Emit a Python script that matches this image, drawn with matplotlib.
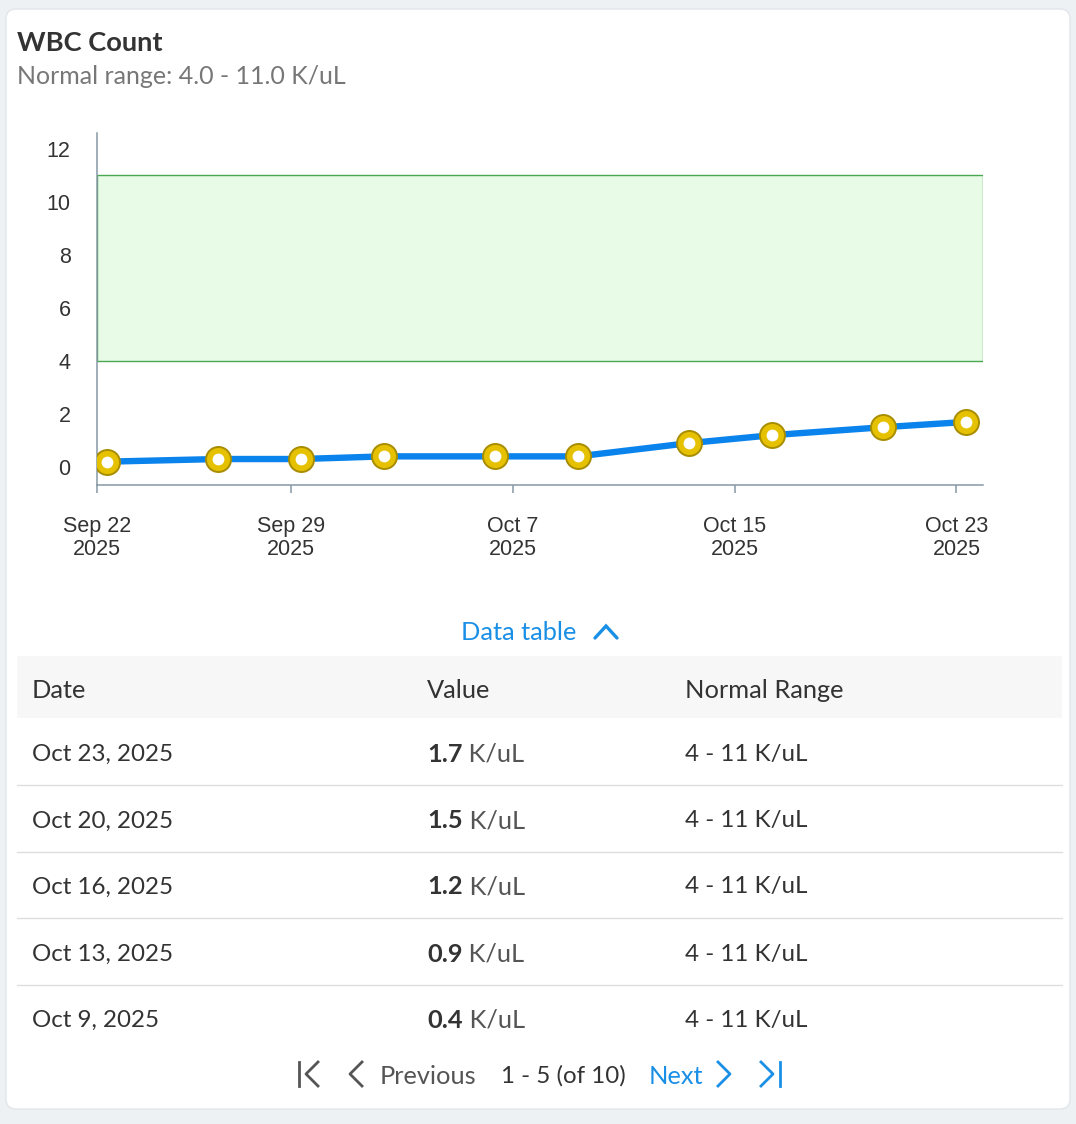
import matplotlib
matplotlib.use('Agg')
from matplotlib import pyplot as plt
from matplotlib.patches import FancyBboxPatch, Rectangle
import pandas as pd

# data
dates = pd.to_datetime(['2025-09-22 08:30', '2025-09-26 08:30', '2025-09-29 08:30',
                        '2025-10-02 08:30', '2025-10-06 08:30', '2025-10-09 08:30',
                        '2025-10-13 08:30', '2025-10-16 08:30', '2025-10-20 08:30',
                        '2025-10-23 08:30'])
values = [0.2, 0.3, 0.3, 0.4, 0.4, 0.4, 0.9, 1.2, 1.5, 1.7]
normal_low = 4
normal_high = 11
xtick_dates = pd.to_datetime(['2025-09-22', '2025-09-29', '2025-10-07', '2025-10-15', '2025-10-23'])
yticks = [0, 2, 4, 6, 8, 10, 12]
table_cols = ['Date', 'Value', 'Normal Range']
unit = 'K/uL'

ui_font = 'Lato'
chart_font = 'Liberation Sans'
blue = '#1a8fe6'
fs = 18.3
fs_num = 17.4  # digit-heavy strings run wide in Lato

fig = plt.figure(figsize=(10.76, 11.24), dpi=100)
fig.patch.set_facecolor('#eef1f4')

# page background in pixel coordinates
bg = fig.add_axes([0, 0, 1, 1])
bg.set_xlim(0, 1076)
bg.set_ylim(1124, 0)
bg.axis('off')
bg.add_patch(FancyBboxPatch((6, 9), 1064, 1100, boxstyle='round,pad=0,rounding_size=10',
                            facecolor='white', edgecolor='#e2e6ea', lw=1))

bg.text(17, 43, 'WBC Count', fontsize=19.6, fontweight='bold', color='#333333',
        family=ui_font, va='center')
bg.text(17, 76, 'Normal range: %.1f - %.1f %s' % (normal_low, normal_high, unit),
        fontsize=18, color='#777777', family=ui_font, va='center')

# chart
ax = fig.add_axes([97 / 1076, 1 - 485 / 1124, (983 - 97) / 1076, (485 - 133) / 1124])
ax.set_facecolor('none')
ax.set_ylim(-0.68, 12.6)
ax.set_xlim(pd.Timestamp('2025-09-22'), pd.Timestamp('2025-10-23 23:00'))
ax.axhspan(normal_low, normal_high, facecolor='#e7fbe7', edgecolor='#49a852', lw=1, zorder=1)
ax.plot(dates, values, color='#0a84ec', lw=4.6, zorder=3, solid_capstyle='round')
ax.plot(dates, values, ls='none', marker='o', ms=18, mfc='#e6c100', mec='#a88d00',
        mew=1.4, zorder=4)
ax.plot(dates, values, ls='none', marker='o', ms=8.5, mfc='white', mec='none', zorder=5)

for s in ['top', 'right']:
    ax.spines[s].set_visible(False)
for s in ['left', 'bottom']:
    ax.spines[s].set_color('#8698a4')
    ax.spines[s].set_linewidth(1.1)

ax.set_yticks(yticks)
ax.set_xticks(xtick_dates)
ax.set_xticklabels(['%s %d\n%d' % (d.strftime('%b'), d.day, d.year) for d in xtick_dates])
ax.tick_params(axis='y', length=0, pad=19, labelsize=15.5, labelcolor='#333333')
ax.tick_params(axis='x', length=6, width=1.1, color='#8698a4', pad=16,
               labelsize=15.5, labelcolor='#333333')
for lbl in ax.get_xticklabels() + ax.get_yticklabels():
    lbl.set_family(chart_font)
for lbl in ax.get_xticklabels():
    lbl.set_linespacing(1.18)

# data table toggle
bg.text(519, 632, 'Data table', fontsize=fs, color=blue, family=ui_font, va='center', ha='center')
bg.plot([595, 606, 617], [638, 626, 638], color=blue, lw=2.4, solid_capstyle='round',
        solid_joinstyle='miter')

# table
bg.add_patch(Rectangle((17, 656), 1045, 62, facecolor='#f7f7f7', edgecolor='none'))
col_x = [32, 427, 685]
for x, name in zip(col_x, table_cols):
    bg.text(x, 690, name, fontsize=fs, color='#333333', family=ui_font, va='center')

row_y = [752, 819, 885, 952, 1018]
recent = list(zip(dates, values))[::-1][:5]
for i, (y, (d, v)) in enumerate(zip(row_y, recent)):
    bg.text(col_x[0], y + 2, '%s %d, %d' % (d.strftime('%b'), d.day, d.year), fontsize=fs_num,
            color='#333333', family=ui_font, va='center')
    t = bg.text(col_x[1], y + 2, '%.1f' % v, fontsize=fs, color='#333333', fontweight='bold',
                family=ui_font, va='center')
    bg.annotate(' ' + unit, xy=(1, 0), xycoords=t, va='bottom', ha='left', fontsize=fs,
                color='#555555', family=ui_font)
    bg.text(col_x[2], y + 2, '%d - %d %s' % (normal_low, normal_high, unit), fontsize=fs_num,
            color='#333333', family=ui_font, va='center')
    if i < 4:
        bg.plot([17, 1062], [y + 33, y + 33], color='#dddddd', lw=1)

# pagination
py = 1074
icon_gray = '#555555'
bg.plot([299, 299], [py - 12, py + 12], color=icon_gray, lw=2)
bg.plot([318, 306, 318], [py - 12, py, py + 12], color=icon_gray, lw=2)
bg.plot([362, 350, 362], [py - 12, py, py + 12], color=icon_gray, lw=2)
bg.text(380, py + 2, 'Previous', fontsize=fs, color=icon_gray, family=ui_font, va='center')
bg.text(501, py + 2, '1 - 5 (of 10)', fontsize=fs_num, color='#333333', family=ui_font, va='center')
bg.text(649, py + 2, 'Next', fontsize=fs, color=blue, family=ui_font, va='center')
bg.plot([718, 730, 718], [py - 12, py, py + 12], color=blue, lw=2)
bg.plot([761, 773, 761], [py - 12, py, py + 12], color=blue, lw=2)
bg.plot([780, 780], [py - 12, py + 12], color=blue, lw=2)

fig.savefig('out.png', dpi=100)
